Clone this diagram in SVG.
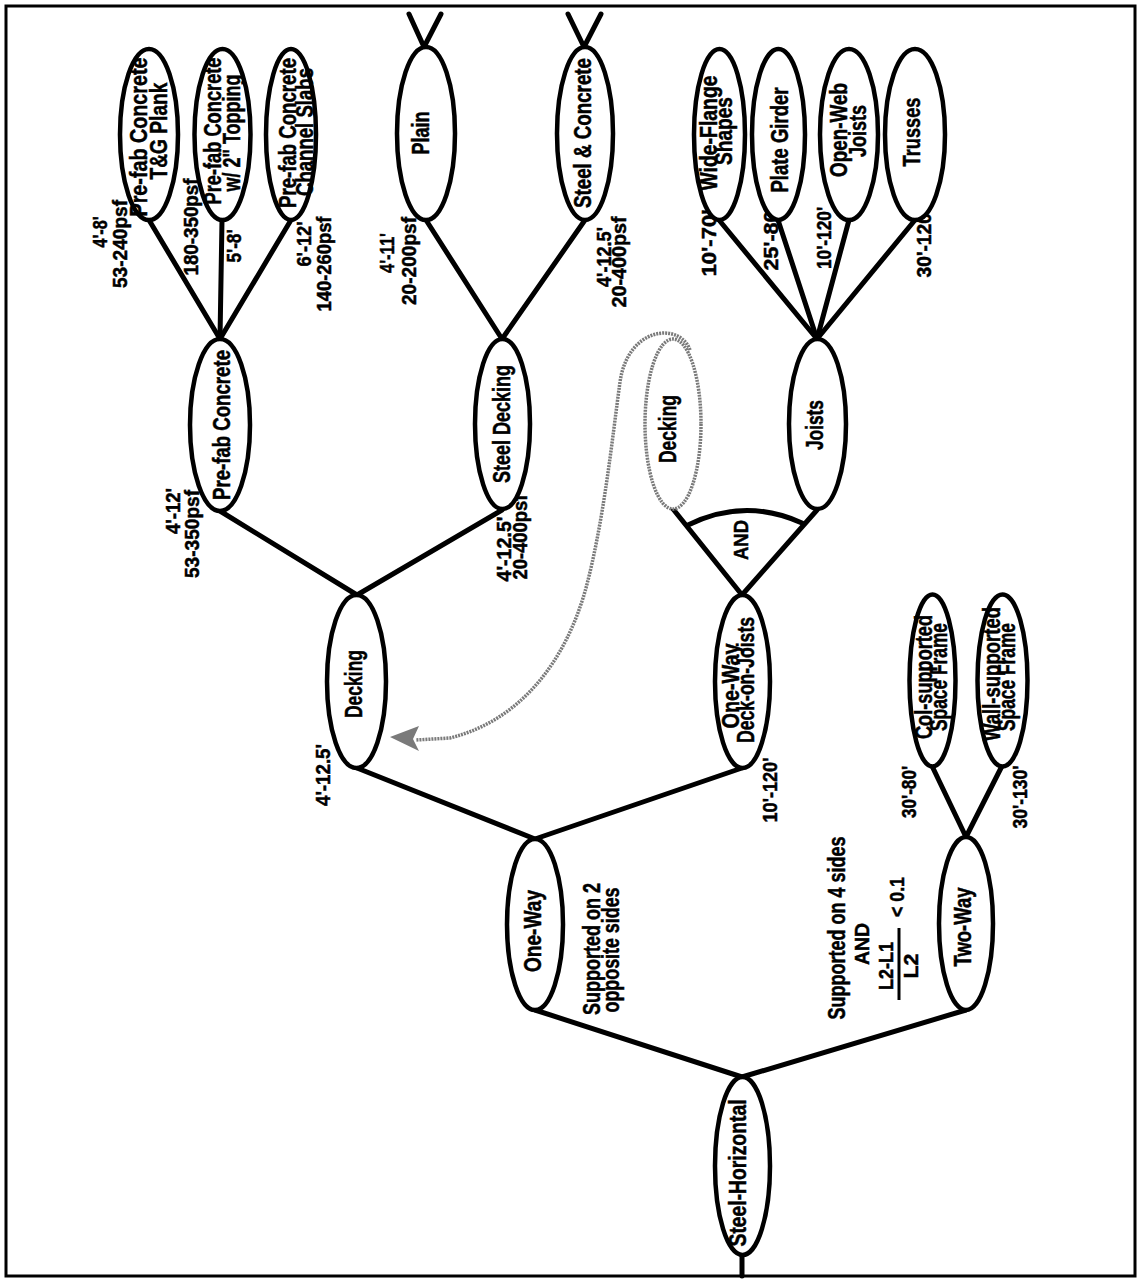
<svg xmlns="http://www.w3.org/2000/svg" width="1138" height="1280" viewBox="0 0 1138 1280">
<style>
.n{fill:#fff;stroke:#000;stroke-width:4.5}
.g{fill:#fff;stroke:#7a7a7a;stroke-width:3.5;stroke-dasharray:2 1}
.c{fill:none;stroke:#000;stroke-width:5;stroke-linecap:round}
.t{font-family:"Liberation Sans",Arial,sans-serif;font-weight:bold;font-size:23px;fill:#000;stroke:#000;stroke-width:0.5;text-anchor:middle}
.s{font-family:"Liberation Sans",Arial,sans-serif;font-weight:bold;font-size:21px;fill:#000;stroke:#000;stroke-width:0.5;text-anchor:middle}
</style>
<rect x="0" y="0" width="1138" height="1280" fill="#fff"/>
<rect x="6" y="6" width="1129" height="1270" fill="none" stroke="#000" stroke-width="3"/>

<g id="connectors">
<line class="c" x1="742" y1="1077" x2="535" y2="1010"/>
<line class="c" x1="742" y1="1077" x2="966" y2="1010"/>
<line class="c" x1="742" y1="1255" x2="742" y2="1276"/>
<line class="c" x1="535" y1="839" x2="357" y2="768"/>
<line class="c" x1="535" y1="839" x2="742" y2="768"/>
<line class="c" x1="357" y1="595" x2="220" y2="511"/>
<line class="c" x1="357" y1="595" x2="502" y2="510"/>
<line class="c" x1="220" y1="339" x2="149" y2="220"/>
<line class="c" x1="220" y1="339" x2="222" y2="220"/>
<line class="c" x1="220" y1="339" x2="291" y2="220"/>
<line class="c" x1="502" y1="339" x2="426" y2="220"/>
<line class="c" x1="502" y1="339" x2="585" y2="220"/>
<line class="c" x1="409" y1="14" x2="424" y2="47"/>
<line class="c" x1="441" y1="14" x2="424" y2="47"/>
<line class="c" x1="568" y1="14" x2="584" y2="47"/>
<line class="c" x1="601" y1="14" x2="584" y2="47"/>
<line class="c" x1="742" y1="595" x2="673" y2="509"/>
<line class="c" x1="742" y1="595" x2="817" y2="510"/>
<line class="c" x1="817" y1="339" x2="719" y2="220"/>
<line class="c" x1="817" y1="339" x2="778" y2="220"/>
<line class="c" x1="817" y1="339" x2="849" y2="220"/>
<line class="c" x1="817" y1="339" x2="915" y2="220"/>
<line class="c" x1="966" y1="837" x2="932" y2="766"/>
<line class="c" x1="966" y1="837" x2="1002" y2="766"/>
<path class="c" d="M688,525 Q745,497 802,523"/>
<path d="M690,350 C680,322 628,326 620,382 C612,440 604,520 586,588 C566,660 522,720 450,738 L416,740" fill="none" stroke="#7a7a7a" stroke-width="3.5" stroke-dasharray="2 1"/>
<polygon points="390,737 419,726 413,739 419,751" fill="#7a7a7a"/>
</g>

<g id="labels">
<text class="s" transform="translate(107,232) rotate(-90)" textLength="31" lengthAdjust="spacingAndGlyphs">4'-8'</text>
<text class="s" transform="translate(127,244) rotate(-90)" textLength="88" lengthAdjust="spacingAndGlyphs">53-240psf</text>
<text class="s" transform="translate(198,227) rotate(-90)" textLength="97" lengthAdjust="spacingAndGlyphs">180-350psf</text>
<text class="s" transform="translate(241,246) rotate(-90)" textLength="33" lengthAdjust="spacingAndGlyphs">5'-8'</text>
<text class="s" transform="translate(311,244) rotate(-90)" textLength="45" lengthAdjust="spacingAndGlyphs">6'-12'</text>
<text class="s" transform="translate(331,264) rotate(-90)" textLength="95" lengthAdjust="spacingAndGlyphs">140-260psf</text>
<text class="s" transform="translate(394,253) rotate(-90)" textLength="40" lengthAdjust="spacingAndGlyphs">4'-11'</text>
<text class="s" transform="translate(416,261) rotate(-90)" textLength="88" lengthAdjust="spacingAndGlyphs">20-200psf</text>
<text class="s" transform="translate(611,257) rotate(-90)" textLength="60" lengthAdjust="spacingAndGlyphs">4'-12.5'</text>
<text class="s" transform="translate(626,262) rotate(-90)" textLength="91" lengthAdjust="spacingAndGlyphs">20-400psf</text>
<text class="s" transform="translate(180,511) rotate(-90)" textLength="46" lengthAdjust="spacingAndGlyphs">4'-12'</text>
<text class="s" transform="translate(199,534) rotate(-90)" textLength="88" lengthAdjust="spacingAndGlyphs">53-350psf</text>
<text class="s" transform="translate(511,549) rotate(-90)" textLength="65" lengthAdjust="spacingAndGlyphs">4'-12.5'</text>
<text class="s" transform="translate(527,537) rotate(-90)" textLength="85" lengthAdjust="spacingAndGlyphs">20-400psf</text>
<text class="s" transform="translate(330,775) rotate(-90)" textLength="62" lengthAdjust="spacingAndGlyphs">4'-12.5'</text>
<text class="s" transform="translate(777,790) rotate(-90)" textLength="65" lengthAdjust="spacingAndGlyphs">10'-120'</text>
<text class="s" transform="translate(716,243) rotate(-90)" textLength="67" lengthAdjust="spacingAndGlyphs">10'-70'</text>
<text class="s" transform="translate(778,238) rotate(-90)" textLength="65" lengthAdjust="spacingAndGlyphs">25'-80'</text>
<text class="s" transform="translate(831,238) rotate(-90)" textLength="62" lengthAdjust="spacingAndGlyphs">10'-120'</text>
<text class="s" transform="translate(931,243) rotate(-90)" textLength="69" lengthAdjust="spacingAndGlyphs">30'-120'</text>
<text class="s" transform="translate(916,792) rotate(-90)" textLength="52" lengthAdjust="spacingAndGlyphs">30'-80'</text>
<text class="s" transform="translate(1027,797) rotate(-90)" textLength="63" lengthAdjust="spacingAndGlyphs">30'-130'</text>
<text class="t" transform="translate(600,949) rotate(-90)" textLength="132" lengthAdjust="spacingAndGlyphs">Supported on 2</text>
<text class="t" transform="translate(619,950) rotate(-90)" textLength="125" lengthAdjust="spacingAndGlyphs">opposite sides</text>
<text class="t" transform="translate(845,928) rotate(-90)" textLength="183" lengthAdjust="spacingAndGlyphs">Supported on 4 sides</text>
<text class="s" transform="translate(869,944) rotate(-90)" textLength="42" lengthAdjust="spacingAndGlyphs">AND</text>
<text class="s" transform="translate(893,966) rotate(-90)" textLength="48" lengthAdjust="spacingAndGlyphs">L2-L1</text>
<line x1="899" y1="928" x2="899" y2="1000" stroke="#000" stroke-width="3"/>
<text class="s" transform="translate(918,966) rotate(-90)" textLength="25" lengthAdjust="spacingAndGlyphs">L2</text>
<text class="s" transform="translate(904,897) rotate(-90)" textLength="40" lengthAdjust="spacingAndGlyphs">&lt; 0.1</text>
<text class="s" transform="translate(748,540) rotate(-90)" textLength="40" lengthAdjust="spacingAndGlyphs">AND</text>
</g>

<g id="node-tg-plank">
<ellipse class="n" cx="149" cy="134.5" rx="29" ry="85.5"/>
<text class="t" transform="translate(147,137) rotate(-90)" textLength="159" lengthAdjust="spacingAndGlyphs">Pre-fab Concrete</text>
<text class="t" transform="translate(167,131) rotate(-90)" textLength="97" lengthAdjust="spacingAndGlyphs">T&amp;G Plank</text>
</g>
<g id="node-topping">
<ellipse class="n" cx="222.5" cy="134.5" rx="28" ry="85.5"/>
<text class="t" transform="translate(221,131) rotate(-90)" textLength="147" lengthAdjust="spacingAndGlyphs">Pre-fab Concrete</text>
<text class="t" transform="translate(240,133) rotate(-90)" textLength="117" lengthAdjust="spacingAndGlyphs">w/ 2" Topping</text>
</g>
<g id="node-channel">
<ellipse class="n" cx="291" cy="134.5" rx="25" ry="85.5"/>
<text class="t" transform="translate(296,133) rotate(-90)" textLength="150" lengthAdjust="spacingAndGlyphs">Pre-fab Concrete</text>
<text class="t" transform="translate(313,132) rotate(-90)" textLength="128" lengthAdjust="spacingAndGlyphs">Channel Slabs</text>
</g>
<g id="node-plain">
<ellipse class="n" cx="426" cy="133.5" rx="29" ry="86.5"/>
<text class="t" transform="translate(429,133) rotate(-90)" textLength="43" lengthAdjust="spacingAndGlyphs">Plain</text>
</g>
<g id="node-steel-concrete">
<ellipse class="n" cx="585" cy="133.5" rx="28" ry="86.5"/>
<text class="t" transform="translate(591,133) rotate(-90)" textLength="150" lengthAdjust="spacingAndGlyphs">Steel &amp; Concrete</text>
</g>
<g id="node-wide-flange">
<ellipse class="n" cx="719.5" cy="134.5" rx="25.5" ry="85.5"/>
<text class="t" transform="translate(717,133) rotate(-90)" textLength="115" lengthAdjust="spacingAndGlyphs">Wide-Flange</text>
<text class="t" transform="translate(732,131) rotate(-90)" textLength="68" lengthAdjust="spacingAndGlyphs">Shapes</text>
</g>
<g id="node-plate-girder">
<ellipse class="n" cx="778.5" cy="134.5" rx="26.5" ry="85.5"/>
<text class="t" transform="translate(788,140) rotate(-90)" textLength="105" lengthAdjust="spacingAndGlyphs">Plate Girder</text>
</g>
<g id="node-open-web">
<ellipse class="n" cx="849" cy="134.5" rx="29" ry="85.5"/>
<text class="t" transform="translate(847,130) rotate(-90)" textLength="94" lengthAdjust="spacingAndGlyphs">Open-Web</text>
<text class="t" transform="translate(866,131) rotate(-90)" textLength="52" lengthAdjust="spacingAndGlyphs">Joists</text>
</g>
<g id="node-trusses">
<ellipse class="n" cx="915" cy="134.5" rx="30" ry="85.5"/>
<text class="t" transform="translate(920,132) rotate(-90)" textLength="69" lengthAdjust="spacingAndGlyphs">Trusses</text>
</g>
<g id="node-prefab">
<ellipse class="n" cx="220" cy="425" rx="30" ry="86"/>
<text class="t" transform="translate(230,425) rotate(-90)" textLength="150" lengthAdjust="spacingAndGlyphs">Pre-fab Concrete</text>
</g>
<g id="node-steel-decking">
<ellipse class="n" cx="502.5" cy="424" rx="27.5" ry="85"/>
<text class="t" transform="translate(510,424) rotate(-90)" textLength="118" lengthAdjust="spacingAndGlyphs">Steel Decking</text>
</g>
<g id="node-decking-ref">
<ellipse class="g" cx="673" cy="424" rx="28" ry="85"/>
<text class="t" transform="translate(676,429) rotate(-90)" textLength="68" lengthAdjust="spacingAndGlyphs">Decking</text>
</g>
<g id="node-joists">
<ellipse class="n" cx="817.5" cy="424" rx="28.5" ry="85"/>
<text class="t" transform="translate(823,425) rotate(-90)" textLength="50" lengthAdjust="spacingAndGlyphs">Joists</text>
</g>
<g id="node-decking">
<ellipse class="n" cx="356.5" cy="681.5" rx="29.5" ry="86.5"/>
<text class="t" transform="translate(362,684) rotate(-90)" textLength="68" lengthAdjust="spacingAndGlyphs">Decking</text>
</g>
<g id="node-deck-on-joists">
<ellipse class="n" cx="742.5" cy="681.5" rx="27.5" ry="86.5"/>
<text class="t" transform="translate(739,686) rotate(-90)" textLength="85" lengthAdjust="spacingAndGlyphs">One-Way</text>
<text class="t" transform="translate(754,680) rotate(-90)" textLength="126" lengthAdjust="spacingAndGlyphs">Deck-on-Joists</text>
</g>
<g id="node-col-supported">
<ellipse class="n" cx="932.5" cy="680.5" rx="23" ry="86"/>
<text class="t" transform="translate(932,677) rotate(-90)" textLength="124" lengthAdjust="spacingAndGlyphs">Col-supported</text>
<text class="t" transform="translate(947,677) rotate(-90)" textLength="108" lengthAdjust="spacingAndGlyphs">Space Frame</text>
</g>
<g id="node-wall-supported">
<ellipse class="n" cx="1002.5" cy="680.5" rx="25" ry="86"/>
<text class="t" transform="translate(1000,674) rotate(-90)" textLength="134" lengthAdjust="spacingAndGlyphs">Wall-supported</text>
<text class="t" transform="translate(1015,677) rotate(-90)" textLength="108" lengthAdjust="spacingAndGlyphs">Space Frame</text>
</g>
<g id="node-one-way">
<ellipse class="n" cx="535" cy="924.5" rx="28" ry="85.5"/>
<text class="t" transform="translate(541,931) rotate(-90)" textLength="82" lengthAdjust="spacingAndGlyphs">One-Way</text>
</g>
<g id="node-two-way">
<ellipse class="n" cx="966" cy="923.5" rx="27" ry="86.5"/>
<text class="t" transform="translate(971,927) rotate(-90)" textLength="79" lengthAdjust="spacingAndGlyphs">Two-Way</text>
</g>
<g id="node-steel-horizontal">
<ellipse class="n" cx="742.5" cy="1166" rx="27.5" ry="89"/>
<text class="t" transform="translate(746,1173) rotate(-90)" textLength="147" lengthAdjust="spacingAndGlyphs">Steel-Horizontal</text>
</g>
</svg>
